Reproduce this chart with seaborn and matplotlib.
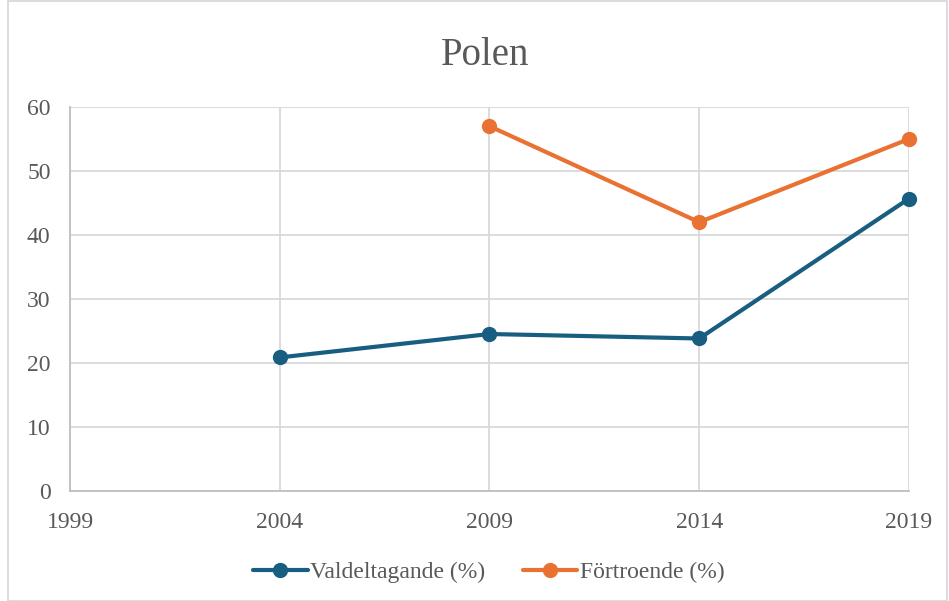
import matplotlib
matplotlib.use("Agg")
import matplotlib.pyplot as plt
import seaborn as sns
import pandas as pd
from matplotlib.patches import Rectangle

years_valdel = [2004, 2009, 2014, 2019]
valdeltagande = [20.87, 24.53, 23.83, 45.68]
years_fort = [2009, 2014, 2019]
fortroende = [57, 42, 55]
x_ticks = [1999, 2004, 2009, 2014, 2019]
y_ticks = [0, 10, 20, 30, 40, 50, 60]
series_names = ["Valdeltagande (%)", "Förtroende (%)"]
colors = ["#175E80", "#E97132"]

df = pd.concat([
    pd.DataFrame({"År": years_valdel, "Värde": valdeltagande, "Serie": series_names[0]}),
    pd.DataFrame({"År": years_fort, "Värde": fortroende, "Serie": series_names[1]}),
], ignore_index=True)

sns.set_theme(style="white")
plt.rcParams['font.family'] = ['Liberation Serif', 'DejaVu Serif']
text_color = "#595959"

fig = plt.figure(figsize=(9.49, 6.01), dpi=100)
ax = fig.add_axes([0.0738, 0.183, 0.884, 0.639])

sns.lineplot(data=df, x="År", y="Värde", hue="Serie", palette=dict(zip(series_names, colors)),
             marker="o", markersize=11, linewidth=3, markeredgewidth=0, ax=ax)
for ln in ax.get_lines():
    ln.set_clip_on(False)

ax.set_xlim(1999, 2019)
ax.set_ylim(0, 60)
ax.set_xticks(x_ticks)
ax.set_yticks(y_ticks)
ax.set_xlabel("")
ax.set_ylabel("")
ax.grid(True, color="#D9D9D9", linewidth=1.3)
ax.set_axisbelow(True)
for s in ["top", "right"]:
    ax.spines[s].set_visible(False)
for s in ["left", "bottom"]:
    ax.spines[s].set_color("#BFBFBF")
    ax.spines[s].set_linewidth(1.3)
ax.tick_params(axis="both", colors=text_color, labelsize=17, length=0)
ax.tick_params(axis="x", pad=15)
ax.tick_params(axis="y", pad=14)
for lbl in ax.get_xticklabels() + ax.get_yticklabels():
    lbl.set_color(text_color)

fig.text(0.511, 0.907, "Polen", ha="center", va="center", fontsize=28, color=text_color)

leg = ax.legend(loc="center", bbox_to_anchor=(0.515, 0.048), bbox_transform=fig.transFigure,
                ncol=2, frameon=False, fontsize=17, handlelength=2.3, columnspacing=1.6,
                handletextpad=0.1)
for t in leg.get_texts():
    t.set_color(text_color)

fig.patches.append(Rectangle((0.008, 0.0), 0.99, 0.998, transform=fig.transFigure,
                             fill=False, edgecolor="#D9D9D9", linewidth=1.3))

fig.savefig("out.png", dpi=100)
